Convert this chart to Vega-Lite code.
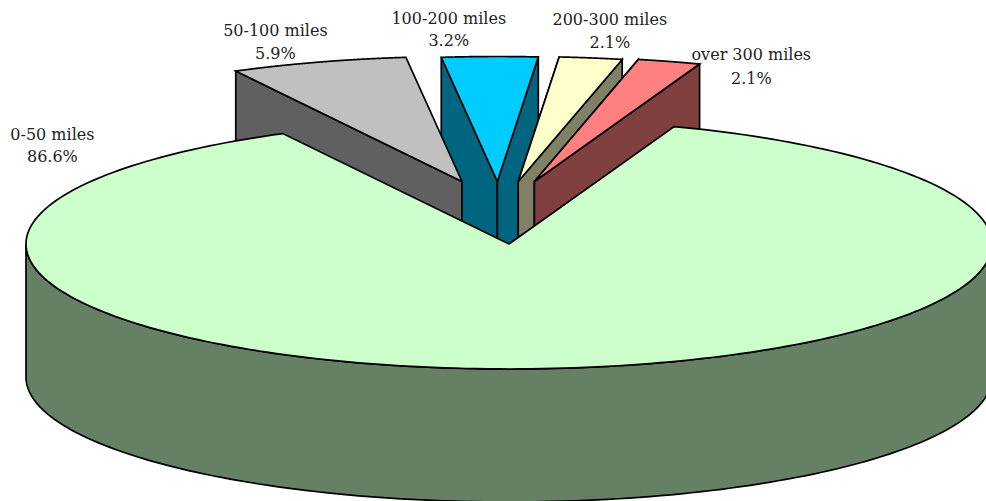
{
  "$schema": "https://vega.github.io/schema/vega-lite/v6.json",
  "width": 986,
  "height": 501,
  "autosize": {"type": "none"},
  "padding": 0,
  "background": "white",
  "config": {"view": {"stroke": null}},
  "data": {
    "values": [
      {"slice": "0-50 miles", "share": 86.6},
      {"slice": "50-100 miles", "share": 5.9},
      {"slice": "100-200 miles", "share": 3.2},
      {"slice": "200-300 miles", "share": 2.1},
      {"slice": "over 300 miles", "share": 2.1}
    ]
  },
  "transform": [
    {"stack": "share", "groupby": [], "offset": "normalize", "as": ["f0", "f1"]},
    {"calculate": "PI / 9 + 2 * PI * datum.f0", "as": "a0"},
    {"calculate": "PI / 9 + 2 * PI * datum.f1", "as": "a1"},
    {"calculate": "(datum.a0 + datum.a1) / 2", "as": "mid"},
    {"calculate": "datum.share < 50 ? -0.02 + 0.26 * sin(datum.mid) : 0", "as": "ex"},
    {"calculate": "datum.share < 50 ? 0.5 : 0", "as": "ey"},
    {"calculate": "sequence(-1, 242)", "as": "i"},
    {"flatten": ["i"]},
    {"calculate": "datum.i < 0 || datum.i > 240", "as": "tip"},
    {"calculate": "datum.a0 + (datum.a1 - datum.a0) * clamp(datum.i, 0, 240) / 240", "as": "a"},
    {"calculate": "datum.ex + (datum.tip ? 0 : sin(datum.a))", "as": "px"},
    {"calculate": "datum.ey + (datum.tip ? 0 : cos(datum.a))", "as": "py"},
    {"calculate": "datum.py - 1.064", "as": "pyb"},
    {"calculate": "datum.i <= 0 ? 'start' : datum.i >= 240 ? 'end' : ''", "as": "wall"}
  ],
  "encoding": {
    "x": {"field": "px", "type": "quantitative", "axis": null, "scale": {"domain": [-1.0538, 0.9876], "nice": false, "zero": false}},
    "y": {"field": "py", "type": "quantitative", "axis": null, "scale": {"domain": [-2.056, 1.952], "nice": false, "zero": false}}
  },
  "layer": [
    {
      "transform": [{"filter": "datum.slice === '100-200 miles' && datum.wall !== ''"}],
      "mark": {"type": "area", "fill": "#006680", "stroke": "black", "strokeWidth": 1.7, "strokeJoin": "miter"},
      "encoding": {"y2": {"field": "pyb"}, "detail": {"field": "wall"}}
    },
    {
      "transform": [{"filter": "datum.slice === '100-200 miles'"}],
      "mark": {"type": "line", "fill": "#00CCFF", "stroke": "black", "strokeWidth": 1.7, "strokeJoin": "miter"},
      "encoding": {"order": {"field": "i", "type": "quantitative"}}
    },
    {
      "transform": [{"filter": "datum.slice === '50-100 miles' && datum.wall === 'start'"}],
      "mark": {"type": "area", "fill": "#606060", "stroke": "black", "strokeWidth": 1.7, "strokeJoin": "miter"},
      "encoding": {"y2": {"field": "pyb"}}
    },
    {
      "transform": [{"filter": "datum.slice === '50-100 miles'"}],
      "mark": {"type": "line", "fill": "#C0C0C0", "stroke": "black", "strokeWidth": 1.7, "strokeJoin": "miter"},
      "encoding": {"order": {"field": "i", "type": "quantitative"}}
    },
    {
      "transform": [{"filter": "datum.slice === '200-300 miles' && datum.wall !== ''"}],
      "mark": {"type": "area", "fill": "#808066", "stroke": "black", "strokeWidth": 1.7, "strokeJoin": "miter"},
      "encoding": {"y2": {"field": "pyb"}, "detail": {"field": "wall"}}
    },
    {
      "transform": [{"filter": "datum.slice === '200-300 miles'"}],
      "mark": {"type": "line", "fill": "#FFFFCC", "stroke": "black", "strokeWidth": 1.7, "strokeJoin": "miter"},
      "encoding": {"order": {"field": "i", "type": "quantitative"}}
    },
    {
      "transform": [{"filter": "datum.slice === 'over 300 miles' && datum.wall !== ''"}],
      "mark": {"type": "area", "fill": "#804040", "stroke": "black", "strokeWidth": 1.7, "strokeJoin": "miter"},
      "encoding": {"y2": {"field": "pyb"}, "detail": {"field": "wall"}}
    },
    {
      "transform": [{"filter": "datum.slice === 'over 300 miles'"}],
      "mark": {"type": "line", "fill": "#FF8080", "stroke": "black", "strokeWidth": 1.7, "strokeJoin": "miter"},
      "encoding": {"order": {"field": "i", "type": "quantitative"}}
    },
    {
      "transform": [{"filter": "datum.slice === '0-50 miles' && !datum.tip && cos(datum.a) < 0.002"}],
      "mark": {"type": "area", "fill": "#668066", "stroke": "black", "strokeWidth": 1.7},
      "encoding": {"y2": {"field": "pyb"}}
    },
    {
      "transform": [{"filter": "datum.slice === '0-50 miles'"}],
      "mark": {"type": "line", "fill": "#CCFFCC", "stroke": "black", "strokeWidth": 1.7, "strokeJoin": "miter"},
      "encoding": {"order": {"field": "i", "type": "quantitative"}}
    },
    {
      "transform": [
        {"filter": "datum.i === 120 && datum.slice === '0-50 miles'"},
        {"calculate": "[datum.slice, format(datum.share, '.1f') + '%']", "as": "caption"}
      ],
      "mark": {"type": "text", "font": "DejaVu Serif", "fontSize": 16, "lineHeight": 22, "color": "#222222", "align": "center", "baseline": "middle", "dx": -490, "dy": -234},
      "encoding": {"text": {"field": "caption"}}
    },
    {
      "transform": [
        {"filter": "datum.i === 120 && datum.slice === '50-100 miles'"},
        {"calculate": "[datum.slice, format(datum.share, '.1f') + '%']", "as": "caption"}
      ],
      "mark": {"type": "text", "font": "DejaVu Serif", "fontSize": 16, "lineHeight": 23, "color": "#222222", "align": "center", "baseline": "middle", "dx": -43, "dy": -31},
      "encoding": {"text": {"field": "caption"}}
    },
    {
      "transform": [
        {"filter": "datum.i === 120 && datum.slice === '100-200 miles'"},
        {"calculate": "[datum.slice, format(datum.share, '.1f') + '%']", "as": "caption"}
      ],
      "mark": {"type": "text", "font": "DejaVu Serif", "fontSize": 16, "lineHeight": 22, "color": "#222222", "align": "center", "baseline": "middle", "dx": -41, "dy": -38},
      "encoding": {"text": {"field": "caption"}}
    },
    {
      "transform": [
        {"filter": "datum.i === 120 && datum.slice === '200-300 miles'"},
        {"calculate": "[datum.slice, format(datum.share, '.1f') + '%']", "as": "caption"}
      ],
      "mark": {"type": "text", "font": "DejaVu Serif", "fontSize": 16, "lineHeight": 23, "color": "#222222", "align": "center", "baseline": "middle", "dx": 19, "dy": -38},
      "encoding": {"text": {"field": "caption"}}
    },
    {
      "transform": [
        {"filter": "datum.i === 120 && datum.slice === 'over 300 miles'"},
        {"calculate": "[datum.slice, format(datum.share, '.1f') + '%']", "as": "caption"}
      ],
      "mark": {"type": "text", "font": "DejaVu Serif", "fontSize": 16, "lineHeight": 24, "color": "#222222", "align": "center", "baseline": "middle", "dx": 82, "dy": -6},
      "encoding": {"text": {"field": "caption"}}
    }
  ]
}
